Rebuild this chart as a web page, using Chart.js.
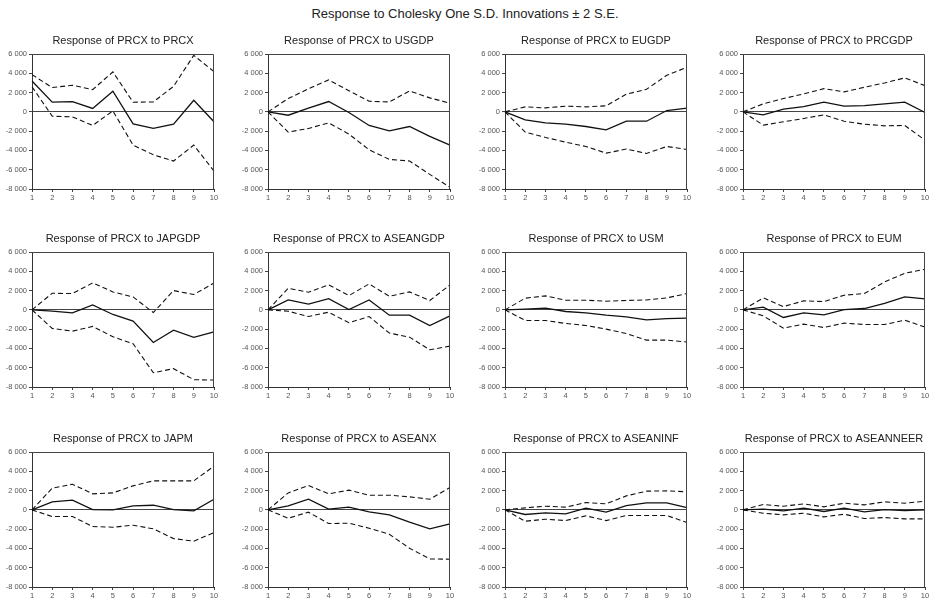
<!DOCTYPE html>
<html>
<head>
<meta charset="utf-8">
<script src="https://cdn.jsdelivr.net/npm/chart.js@4/dist/chart.umd.min.js"></script>
<style>
  body { margin: 0; background: #fff; }
  #page { position: relative; width: 930px; height: 601px; font-family: "Liberation Sans", Arial, sans-serif; }
  #heading { position: absolute; left: 0; top: 5px; width: 930px; text-align: center; font-size: 13px; line-height: 18px; color: #222; }
  .panel { position: absolute; }
</style>
</head>
<body>
<div id="page">
  <div id="heading">Response to Cholesky One S.D. Innovations ± 2 S.E.</div>
</div>
<script>
// periods on the x axis
var periods = ['1', '2', '3', '4', '5', '6', '7', '8', '9', '10'];
var yTicksMin = -8000;
var yTicksMax = 6000;

// impulse responses of PRCX, with upper / lower 2 S.E. bands
var prcx      = [3200, 1000, 1070, 350, 2140, -1240, -1720, -1280, 1200, -1030];
var prcxHi    = [3860, 2520, 2760, 2310, 4140, 1000, 1030, 2650, 5860, 4170];
var prcxLo    = [2600, -450, -520, -1410, 100, -3450, -4450, -5100, -3450, -6140];

var usgdp     = [0, -350, 380, 1070, -70, -1410, -1970, -1520, -2550, -3450];
var usgdpHi   = [0, 1380, 2400, 3310, 2200, 1100, 1030, 2170, 1450, 900];
var usgdpLo   = [0, -2100, -1720, -1140, -2300, -3930, -4930, -5100, -6480, -7830];

var eugdp     = [0, -830, -1140, -1280, -1520, -1860, -970, -970, 140, 380];
var eugdpHi   = [0, 520, 410, 590, 520, 620, 1830, 2340, 3790, 4620];
var eugdpLo   = [0, -2100, -2650, -3140, -3590, -4280, -3860, -4310, -3590, -3900];

var prcgdp    = [0, -310, 280, 550, 1000, 590, 650, 830, 1000, -70];
var prcgdpHi  = [0, 830, 1380, 1860, 2410, 2070, 2550, 3000, 3520, 2720];
var prcgdpLo  = [0, -1380, -1030, -690, -310, -970, -1280, -1450, -1410, -2930];

var japgdp    = [0, -140, -310, 520, -480, -1170, -3380, -2100, -2860, -2280];
var japgdpHi  = [0, 1720, 1690, 2790, 1860, 1340, -280, 2000, 1590, 2790];
var japgdpLo  = [0, -1930, -2210, -1720, -2790, -3520, -6520, -6100, -7240, -7280];

var aseangdp   = [0, 1030, 590, 1170, 30, 1030, -550, -550, -1620, -620];
var aseangdpHi = [0, 2240, 1830, 2590, 1480, 2690, 1410, 1860, 970, 2590];
var aseangdpLo = [0, -140, -690, -240, -1340, -690, -2410, -2830, -4140, -3760];

var usm       = [0, 70, 170, -170, -310, -550, -720, -1030, -900, -860];
var usmHi     = [0, 1210, 1450, 1000, 1000, 900, 970, 1030, 1240, 1690];
var usmLo     = [0, -1100, -1100, -1410, -1620, -2000, -2450, -3140, -3140, -3340];

var eum       = [0, 280, -790, -310, -520, 30, 140, 660, 1340, 1140];
var eumHi     = [0, 1240, 340, 930, 860, 1520, 1690, 2900, 3790, 4210];
var eumLo     = [0, -620, -1900, -1480, -1830, -1380, -1520, -1520, -1070, -1790];

var japm      = [0, 830, 1000, 30, 0, 410, 480, 30, -100, 1100];
var japmHi    = [0, 2250, 2660, 1660, 1760, 2490, 3010, 3010, 3010, 4530];
var japmLo    = [0, -690, -690, -1730, -1800, -1590, -1970, -2980, -3250, -2350];

var aseanx    = [0, 410, 1100, 70, 280, -210, -520, -1280, -1970, -1450];
var aseanxHi  = [0, 1760, 2530, 1660, 2040, 1520, 1520, 1350, 1100, 2320];
var aseanxLo  = [0, -870, -240, -1420, -1380, -1900, -2530, -3980, -5090, -5120];

var aseaninf   = [0, -480, -310, -420, 170, -240, 450, 730, 730, 240];
var aseaninfHi = [0, 210, 380, 280, 760, 620, 1450, 1940, 1970, 1870];
var aseaninfLo = [0, -1180, -970, -1110, -620, -1110, -590, -590, -590, -1310];

var aseanneer   = [0, 70, -100, 170, -170, 170, -210, 30, -70, 0];
var aseanneerHi = [0, 550, 380, 620, 310, 690, 520, 830, 690, 900];
var aseanneerLo = [0, -350, -520, -350, -730, -450, -900, -800, -930, -930];

var shocks = ['PRCX', 'USGDP', 'EUGDP', 'PRCGDP', 'JAPGDP', 'ASEANGDP',
              'USM', 'EUM', 'JAPM', 'ASEANX', 'ASEANINF', 'ASEANNEER'];
var mids   = [prcx, usgdp, eugdp, prcgdp, japgdp, aseangdp, usm, eum, japm, aseanx, aseaninf, aseanneer];
var highs  = [prcxHi, usgdpHi, eugdpHi, prcgdpHi, japgdpHi, aseangdpHi, usmHi, eumHi, japmHi, aseanxHi, aseaninfHi, aseanneerHi];
var lows   = [prcxLo, usgdpLo, eugdpLo, prcgdpLo, japgdpLo, aseangdpLo, usmLo, eumLo, japmLo, aseanxLo, aseaninfLo, aseanneerLo];

// grid placement of the plot areas
var colLeft = [32, 268, 505, 743];
var rowTop = [54, 252, 452];
var axisW = 32, plotW = 182, plotH = 135, titleH = 20, xAxisH = 14, padR = 6;

// frame on top / right of the plot area
var framePlugin = {
    id: 'frame',
    afterDraw: function (chart) {
        var a = chart.chartArea;
        var ctx = chart.ctx;
        ctx.save();
        ctx.strokeStyle = '#444';
        ctx.lineWidth = 1;
        ctx.beginPath();
        ctx.moveTo(a.left, a.top + 0.5);
        ctx.lineTo(a.right - 0.5, a.top + 0.5);
        ctx.lineTo(a.right - 0.5, a.bottom);
        ctx.stroke();
        ctx.restore();
    }
};

function fmtThousands(v) {
    var s = Math.abs(v).toString().replace(/\B(?=(\d{3})+(?!\d))/g, ' ');
    return (v < 0 ? '-' : '') + s;
}

function makePanel(i) {
    var col = i % 4, row = Math.floor(i / 4);
    var div = document.createElement('div');
    div.className = 'panel';
    div.style.left = (colLeft[col] - axisW) + 'px';
    div.style.top = (rowTop[row] - titleH) + 'px';
    var canvas = document.createElement('canvas');
    canvas.width = axisW + plotW + padR;
    canvas.height = titleH + plotH + xAxisH;
    div.appendChild(canvas);
    document.getElementById('page').appendChild(div);

    var dashed = { borderColor: '#111', borderWidth: 1.1, borderDash: [5, 3], pointRadius: 0, tension: 0, fill: false };

    new Chart(canvas.getContext('2d'), {
        type: 'line',
        data: {
            labels: periods,
            datasets: [
                Object.assign({ label: 'upper', data: highs[i] }, dashed),
                { label: 'response', data: mids[i], borderColor: '#111', borderWidth: 1.3, pointRadius: 0, tension: 0, fill: false },
                Object.assign({ label: 'lower', data: lows[i] }, dashed)
            ]
        },
        options: {
            responsive: false,
            animation: false,
            layout: { padding: { left: 0, right: padR, top: 0, bottom: 0 } },
            plugins: {
                legend: { display: false },
                tooltip: { enabled: false },
                title: {
                    display: true,
                    fullSize: false,
                    text: 'Response of PRCX to ' + shocks[i],
                    color: '#222',
                    font: { family: 'Liberation Sans', size: 11, weight: 'normal' },
                    padding: { top: 0, bottom: 6.8 }
                }
            },
            scales: {
                x: {
                    type: 'category',
                    offset: false,
                    grid: { drawOnChartArea: false, drawTicks: true, tickLength: 3, tickColor: '#444' },
                    border: { color: '#333', width: 1 },
                    ticks: { color: '#555', padding: 1, maxRotation: 0, autoSkip: false,
                             font: { family: 'Liberation Sans', size: 7.5 } },
                    afterFit: function (s) { s.height = xAxisH; s.paddingLeft = 0; s.paddingRight = 0; }
                },
                y: {
                    min: yTicksMin,
                    max: yTicksMax,
                    grid: {
                        color: function (c) { return c.tick && c.tick.value === 0 ? '#444' : 'rgba(0,0,0,0)'; },
                        lineWidth: 1,
                        tickColor: '#444',
                        tickLength: 3
                    },
                    border: { color: '#333', width: 1 },
                    ticks: { stepSize: 2000, color: '#555', padding: 2,
                             font: { family: 'Liberation Sans', size: 7.5 },
                             callback: function (v) { return fmtThousands(v); } },
                    afterFit: function (s) { s.width = axisW; s.paddingTop = 0; s.paddingBottom = 0; }
                }
            }
        },
        plugins: [framePlugin]
    });
}

for (var i = 0; i < shocks.length; i++) {
    makePanel(i);
}
</script>
</body>
</html>
